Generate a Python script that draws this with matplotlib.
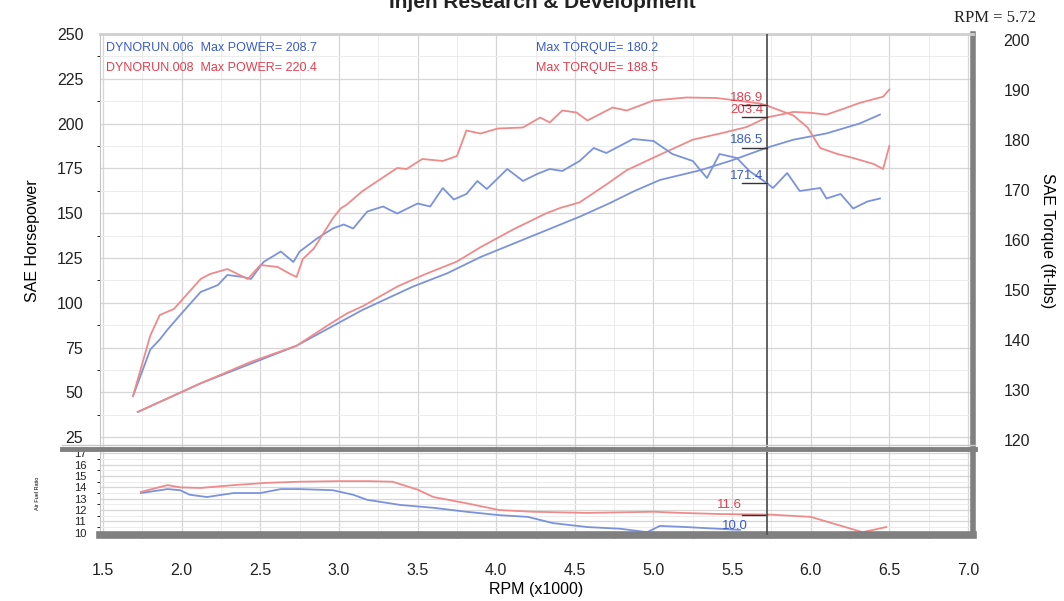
import matplotlib
matplotlib.use('Agg')
import matplotlib.pyplot as plt
from matplotlib.lines import Line2D
from matplotlib.ticker import MultipleLocator

plt.rcParams['font.family'] = ['Liberation Sans', 'DejaVu Sans']

# --- data ---
rpm_hp_red = [1.72, 2.12, 2.44, 2.73, 2.94, 3.05, 3.15, 3.37, 3.55, 3.75, 3.90, 4.11, 4.32, 4.41,
              4.53, 4.70, 4.83, 5.05, 5.25, 5.45, 5.59, 5.72, 5.89, 6.00, 6.10, 6.20, 6.31, 6.46, 6.50]
hp_red = [39, 55, 67, 76, 88, 94, 98, 109, 116, 123, 131, 141, 150, 153,
          156, 166, 174, 183, 191, 195, 198, 203.4, 206.5, 206, 205, 208, 211.5, 215, 219]

rpm_hp_blue = [1.72, 2.12, 2.44, 2.73, 2.94, 3.15, 3.47, 3.69, 3.90, 4.11, 4.32, 4.53, 4.72, 4.87,
               5.04, 5.30, 5.50, 5.72, 5.89, 6.10, 6.31, 6.44]
hp_blue = [39, 55, 66, 76, 86, 96, 109, 116.5, 125.5, 133, 140.5, 148, 155.5, 162,
           168.5, 174, 179.5, 186.5, 191, 194.5, 200, 205]

rpm_tq_red = [1.69, 1.80, 1.86, 1.95, 2.12, 2.18, 2.29, 2.42, 2.50, 2.61, 2.69, 2.73, 2.77, 2.84,
              2.96, 3.01, 3.05, 3.15, 3.37, 3.43, 3.53, 3.66, 3.75, 3.81, 3.90, 4.01, 4.17, 4.28,
              4.34, 4.42, 4.51, 4.58, 4.74, 4.83, 5.00, 5.21, 5.40, 5.68, 5.72, 5.89, 5.98, 6.06,
              6.17, 6.27, 6.40, 6.46, 6.50]
tq_red = [128.8, 140.9, 145.0, 146.2, 152.2, 153.2, 154.2, 152.2, 155.0, 154.6, 153.2, 152.6, 156.2, 158.3,
          164.3, 166.3, 167.1, 169.8, 174.4, 174.2, 176.2, 175.8, 176.8, 181.9, 181.3, 182.3, 182.5, 184.5,
          183.5, 185.9, 185.5, 183.9, 186.5, 185.9, 187.9, 188.5, 188.4, 187.3, 186.9, 184.9, 182.5, 178.4,
          177.2, 176.4, 175.2, 174.2, 178.8]

rpm_tq_blue = [1.69, 1.80, 1.86, 1.91, 1.99, 2.12, 2.23, 2.29, 2.39, 2.44, 2.52, 2.63, 2.71, 2.75,
               2.86, 2.96, 3.03, 3.09, 3.18, 3.28, 3.37, 3.50, 3.58, 3.66, 3.73, 3.81, 3.88, 3.94,
               4.07, 4.17, 4.26, 4.34, 4.42, 4.53, 4.62, 4.70, 4.87, 5.00, 5.12, 5.25, 5.34, 5.42,
               5.53, 5.61, 5.72, 5.76, 5.85, 5.93, 6.06, 6.10, 6.19, 6.27, 6.36, 6.44]
tq_blue = [128.8, 138.1, 140.1, 142.1, 145.0, 149.6, 151.0, 153.0, 152.6, 152.2, 155.6, 157.7, 155.6, 157.7,
           160.3, 162.3, 163.1, 162.3, 165.7, 166.7, 165.3, 167.3, 166.7, 170.4, 168.1, 169.2, 171.8, 170.2,
           174.2, 171.8, 173.2, 174.2, 173.8, 175.8, 178.4, 177.4, 180.2, 179.8, 177.2, 175.8, 172.4, 177.2,
           176.4, 173.8, 171.4, 170.4, 173.4, 169.8, 170.4, 168.3, 169.2, 166.3, 167.7, 168.3]

rpm_afr_red = [1.74, 1.91, 1.99, 2.12, 2.33, 2.54, 2.75, 3.01, 3.18, 3.34, 3.50, 3.60, 3.81, 4.02,
               4.23, 4.58, 5.00, 5.17, 5.42, 5.74, 6.00, 6.17, 6.33, 6.48]
afr_red = [13.6, 14.2, 14.0, 13.95, 14.2, 14.4, 14.5, 14.55, 14.55, 14.5, 13.8, 13.15, 12.6, 12.0,
           11.85, 11.75, 11.85, 11.75, 11.65, 11.6, 11.4, 10.7, 10.05, 10.5]
rpm_afr_blue = [1.74, 1.91, 1.99, 2.05, 2.16, 2.33, 2.50, 2.63, 2.75, 2.96, 3.09, 3.18, 3.39, 3.60,
                3.81, 4.02, 4.20, 4.36, 4.58, 4.79, 4.96, 5.04, 5.21, 5.34, 5.55]
afr_blue = [13.5, 13.85, 13.75, 13.35, 13.15, 13.5, 13.5, 13.85, 13.85, 13.75, 13.35, 12.9, 12.45, 12.2,
            11.85, 11.55, 11.4, 10.85, 10.5, 10.35, 10.05, 10.6, 10.5, 10.4, 10.25]

cursor_rpm = 5.72
x_ticks = [1.5, 2.0, 2.5, 3.0, 3.5, 4.0, 4.5, 5.0, 5.5, 6.0, 6.5, 7.0]
hp_ticks = [25, 50, 75, 100, 125, 150, 175, 200, 225, 250]
tq_ticks = [120, 130, 140, 150, 160, 170, 180, 190, 200]
afr_ticks = [10, 11, 12, 13, 14, 15, 16, 17]

BLUE = '#7b93dc'
RED = '#ef8a8a'
BLUE_TXT = '#3a5cc8'
RED_TXT = '#e0404f'
BAR = '#808080'

fig = plt.figure(figsize=(10.64, 6.01), dpi=100)
W, H = 1064, 601

ax = fig.add_axes([100 / W, 1 - 448 / H, 872.7 / W, 414 / H])
ax2 = ax.twinx()
axf = fig.add_axes([100 / W, 1 - 535 / H, 872.7 / W, 83 / H], sharex=ax)

ax.set_xlim(1.48, 7.03)
ax.set_ylim(18.9, 250)
ax2.set_ylim(118.4, 201.2)
axf.set_ylim(9.8, 17.12)

# grids
for a in (ax, axf):
    a.xaxis.set_major_locator(MultipleLocator(0.5))
    a.xaxis.set_minor_locator(MultipleLocator(0.25))
    a.grid(which='major', color='#d6d6d6', lw=0.9)
    a.grid(which='minor', color='#ececec', lw=0.7)
    a.set_axisbelow(True)
ax.set_yticks(hp_ticks)
ax.yaxis.set_minor_locator(MultipleLocator(12.5))
axf.set_yticks(afr_ticks)
axf.yaxis.set_minor_locator(MultipleLocator(0.5))

# curves
ax.plot(rpm_hp_blue, hp_blue, color=BLUE, lw=1.3)
ax.plot(rpm_hp_red, hp_red, color=RED, lw=1.3)
ax2.plot(rpm_tq_blue, tq_blue, color=BLUE, lw=1.3)
ax2.plot(rpm_tq_red, tq_red, color=RED, lw=1.3)
axf.plot(rpm_afr_blue, afr_blue, color=BLUE, lw=1.3)
axf.plot(rpm_afr_red, afr_red, color=RED, lw=1.3)

# cursor
for a in (ax, axf):
    a.axvline(cursor_rpm, color='#555555', lw=1.3, zorder=5)

# cursor readouts
def readout(a, val, txt, col):
    a.plot([cursor_rpm - 0.16, cursor_rpm], [val, val], color='#333333', lw=1.0, zorder=6)
    a.annotate(txt, (cursor_rpm - 0.02, val), xytext=(0, 1), textcoords='offset points',
               ha='right', va='bottom', color=col, fontsize=9.5, zorder=7)

readout(ax2, tq_red[rpm_tq_red.index(cursor_rpm)], '186.9', RED_TXT)
readout(ax, hp_red[rpm_hp_red.index(cursor_rpm)], '203.4', RED_TXT)
readout(ax, hp_blue[rpm_hp_blue.index(cursor_rpm)], '186.5', BLUE_TXT)
readout(ax2, tq_blue[rpm_tq_blue.index(cursor_rpm)], '171.4', BLUE_TXT)
axf.plot([cursor_rpm - 0.16, cursor_rpm], [11.6, 11.6], color='#333333', lw=1.0)
axf.text(cursor_rpm - 0.16, 11.9, '11.6', ha='right', va='bottom', color=RED_TXT, fontsize=9.5)
axf.text(cursor_rpm - 0.12, 10.1, '10.0', ha='right', va='bottom', color=BLUE_TXT, fontsize=9.5)

# header lines
hdr = dict(fontsize=9, family=['Liberation Sans Narrow', 'Liberation Sans'])
ax.text(1.52, 242, 'DYNORUN.006  Max POWER= 208.7', color=BLUE_TXT, va='center', **hdr)
ax.text(1.52, 231, 'DYNORUN.008  Max POWER= 220.4', color=RED_TXT, va='center', **hdr)
ax.text(4.25, 242, 'Max TORQUE= 180.2', color=BLUE_TXT, va='center', **hdr)
ax.text(4.25, 231, 'Max TORQUE= 188.5', color=RED_TXT, va='center', **hdr)

# axes styling
ax.tick_params(axis='x', length=0, labelbottom=False)
ax.tick_params(axis='y', length=0, pad=12, labelsize=11.5, labelcolor='#222222')
ax2.set_yticks(tq_ticks)
ax2.tick_params(axis='y', length=0, pad=22, labelsize=11.5, labelcolor='#222222')
axf.set_xticks(x_ticks)
axf.set_xticklabels([f'{v:.1f}' for v in x_ticks])
axf.tick_params(axis='x', length=0, pad=20, labelsize=11.5, labelcolor='#222222')
axf.tick_params(axis='y', length=0, pad=10, labelsize=8, labelcolor='#222222')

ax.set_ylabel('SAE Horsepower', fontsize=11.5, labelpad=12)
ax2.set_ylabel('SAE Torque (ft-lbs)', fontsize=11.5, rotation=270, labelpad=18)
axf.set_xlabel('RPM (x1000)', fontsize=11.5, labelpad=3)
axf.set_ylabel('Air Fuel Ratio', fontsize=4, labelpad=24)

for s in ax2.spines.values():
    s.set_visible(False)
ax.spines['left'].set_color('#c4c4c4')
ax.spines['top'].set_color('#cfcfcf')
ax.spines['top'].set_linewidth(2)
ax.spines['right'].set_color(BAR)
ax.spines['right'].set_linewidth(4)
ax.spines['bottom'].set_visible(False)
axf.spines['top'].set_visible(False)
axf.spines['left'].set_color('#c4c4c4')
axf.spines['right'].set_color(BAR)
axf.spines['right'].set_linewidth(4)
axf.spines['bottom'].set_color(BAR)
axf.spines['bottom'].set_linewidth(5.5)

# separator bar between the panels
fig.add_artist(Line2D([62 / W, 975 / W], [1 - 449 / H, 1 - 449 / H], color=BAR, lw=3.5))
fig.add_artist(Line2D([62 / W, 975 / W], [1 - 445 / H, 1 - 445 / H], color='#c8c8c8', lw=1))

# title (cut off at the top edge in the scan) and cursor readout
fig.text(0.51, 1 - 8 / H, 'Injen Research & Development', ha='center', va='baseline',
         fontsize=15, fontweight='bold', color='#222222')
fig.text(0.935, 1 - 18 / H, 'RPM = 5.72', ha='center', va='center', fontsize=12,
         family=['Liberation Serif', 'DejaVu Serif'], color='#222222')

fig.savefig('out.png', dpi=100, facecolor='white')
